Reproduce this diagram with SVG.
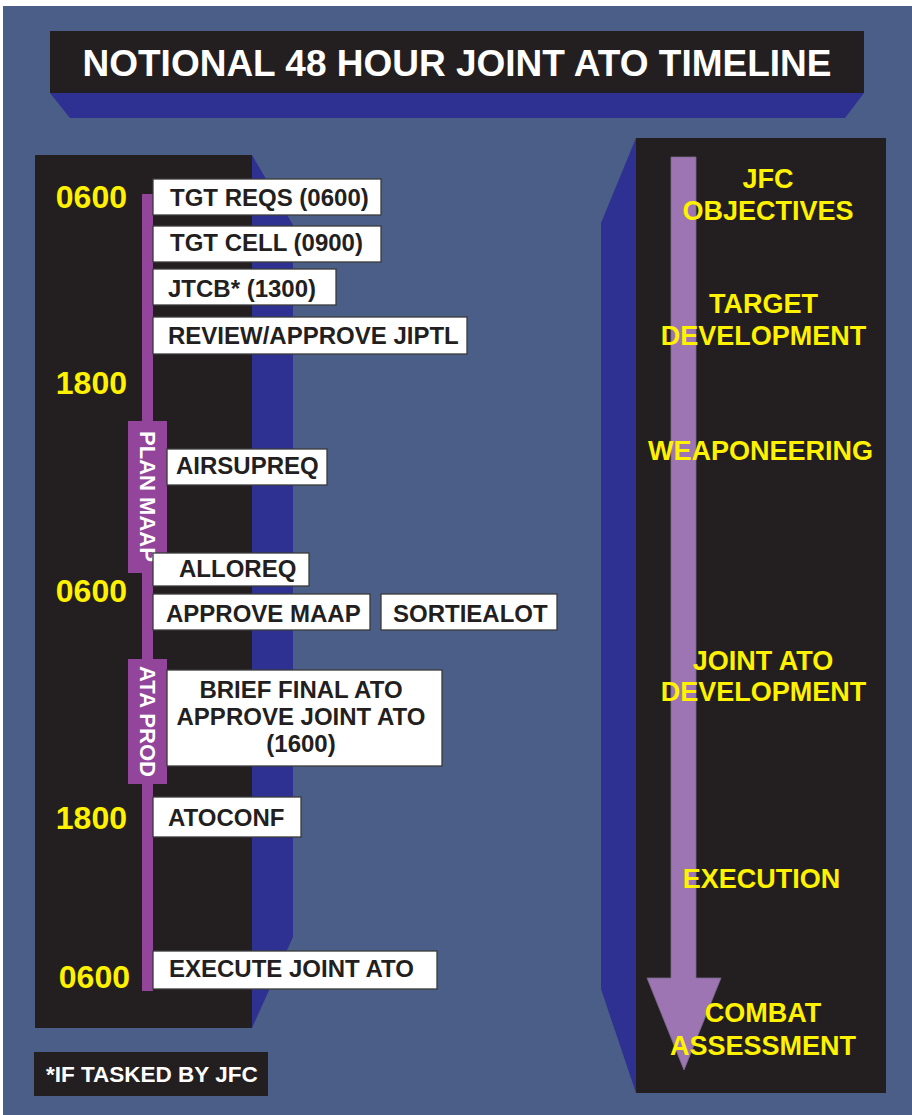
<svg xmlns="http://www.w3.org/2000/svg" width="912" height="1115" viewBox="0 0 912 1115">
<style>
.bk{fill:#231f20}
.side{fill:#2e3192}
.box{fill:#ffffff;stroke:#3a3a3a;stroke-width:1.3}
.bt{font-family:"Liberation Sans",Arial,sans-serif;font-weight:bold;font-size:24px;fill:#231f20}
.tm{font-family:"Liberation Sans",Arial,sans-serif;font-weight:bold;font-size:32px;fill:#fff200;text-anchor:end}
.yl{font-family:"Liberation Sans",Arial,sans-serif;font-weight:bold;font-size:27px;fill:#fff200;text-anchor:middle}
.pt{font-family:"Liberation Sans",Arial,sans-serif;font-weight:bold;font-size:22px;fill:#ffffff;text-anchor:middle}
.pu{fill:#92459b}
</style>
<rect x="0" y="0" width="912" height="1115" fill="#ffffff"/>
<rect x="3" y="6" width="909" height="1109" fill="#4a5e87"/>
<g id="title">
<polygon class="side" points="50,93 864,93 845,118 70,118"/>
<rect class="bk" x="50" y="31" width="814" height="62"/>
<text x="457" y="76" font-family="Liberation Sans,Arial,sans-serif" font-weight="bold" font-size="37" fill="#ffffff" text-anchor="middle">NOTIONAL 48 HOUR JOINT ATO TIMELINE</text>
</g>
<g id="left-panel">
<polygon class="side" points="252,155 293,225 293,937 252,1028"/>
<rect class="bk" x="35" y="155" width="217" height="873"/>
</g>
<g id="right-panel">
<polygon class="side" points="636,138 601,223 601,989 636,1093"/>
<rect class="bk" x="636" y="138" width="250" height="955"/>
</g>
<g id="times">
<text class="tm" x="127" y="208">0600</text>
<text class="tm" x="127" y="394">1800</text>
<text class="tm" x="127" y="602">0600</text>
<text class="tm" x="127" y="829">1800</text>
<text class="tm" x="130" y="988">0600</text>
</g>
<g id="connectors">
<rect class="pu" x="142" y="194" width="11" height="797"/>
<polygon points="671,157 696,157 696,978 721,978 684,1070 647,978 671,978" fill="#9e75b3" stroke="#7a6a8a" stroke-width="0.8"/>
</g>
<g id="plan-maap">
<rect class="pu" x="128" y="421" width="39" height="152"/>
<text class="pt" transform="translate(140,496.5) rotate(90)">PLAN MAAP</text>
</g>
<g id="ata-prod">
<rect class="pu" x="128" y="659" width="39" height="125"/>
<text class="pt" transform="translate(140,721.5) rotate(90)">ATA PROD</text>
</g>
<g id="tgt-reqs"><rect class="box" x="153" y="179" width="228" height="36"/><text class="bt" x="170" y="206">TGT REQS (0600)</text></g>
<g id="tgt-cell"><rect class="box" x="153" y="226" width="228" height="36"/><text class="bt" x="170" y="251">TGT CELL (0900)</text></g>
<g id="jtcb"><rect class="box" x="153" y="269" width="183" height="36"/><text class="bt" x="168" y="297">JTCB* (1300)</text></g>
<g id="review"><rect class="box" x="153" y="317" width="314" height="37"/><text class="bt" x="168" y="344">REVIEW/APPROVE JIPTL</text></g>
<g id="airsupreq"><rect class="box" x="167" y="449" width="160" height="36"/><text class="bt" x="176" y="474">AIRSUPREQ</text></g>
<g id="alloreq"><rect class="box" x="153" y="553" width="156" height="33"/><text class="bt" x="179" y="577">ALLOREQ</text></g>
<g id="approve-maap"><rect class="box" x="153" y="594" width="217" height="36"/><text class="bt" x="166" y="622">APPROVE MAAP</text></g>
<g id="sortiealot"><rect class="box" x="381" y="594" width="176" height="36"/><text class="bt" x="393" y="622">SORTIEALOT</text></g>
<g id="brief"><rect class="box" x="167" y="670" width="275" height="96"/>
<text class="bt" x="301" y="698" text-anchor="middle">BRIEF FINAL ATO</text>
<text class="bt" x="301" y="725" text-anchor="middle">APPROVE JOINT ATO</text>
<text class="bt" x="301" y="752" text-anchor="middle">(1600)</text></g>
<g id="atoconf"><rect class="box" x="153" y="797" width="148" height="40"/><text class="bt" x="168" y="826">ATOCONF</text></g>
<g id="execute"><rect class="box" x="153" y="951" width="284" height="38"/><text class="bt" x="169" y="977">EXECUTE JOINT ATO</text></g>
<g id="footnote"><rect class="bk" x="34" y="1052" width="234" height="44"/>
<text x="46" y="1082" font-family="Liberation Sans,Arial,sans-serif" font-weight="bold" font-size="22.5" fill="#ffffff">*IF TASKED BY JFC</text></g>
<g id="phases">
<text class="yl" x="768" y="188">JFC</text>
<text class="yl" x="768" y="220">OBJECTIVES</text>
<text class="yl" x="763.5" y="313">TARGET</text>
<text class="yl" x="763.5" y="345">DEVELOPMENT</text>
<text class="yl" x="760.5" y="460">WEAPONEERING</text>
<text class="yl" x="763" y="670">JOINT ATO</text>
<text class="yl" x="763.5" y="701">DEVELOPMENT</text>
<text class="yl" x="761.5" y="888">EXECUTION</text>
<text class="yl" x="763" y="1022">COMBAT</text>
<text class="yl" x="763" y="1055">ASSESSMENT</text>
</g>
</svg>
